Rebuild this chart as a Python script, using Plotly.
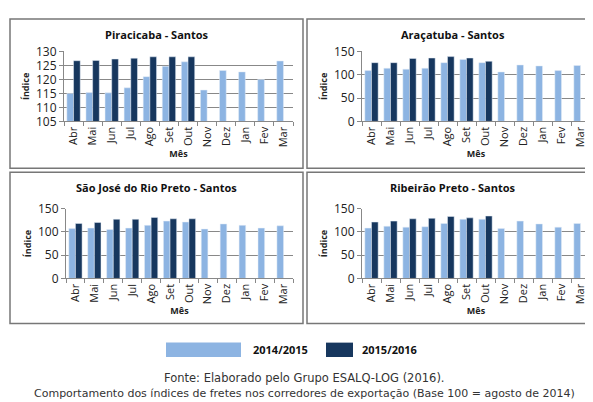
import plotly.graph_objects as go

W, H = 593, 402

meses = ["Abr", "Mai", "Jun", "Jul", "Ago", "Set", "Out", "Nov", "Dez", "Jan", "Fev", "Mar"]

titulos = ["Piracicaba - Santos", "Araçatuba - Santos",
           "São José do Rio Preto - Santos", "Ribeirão Preto - Santos"]

pira_1415 = [115, 115.3, 115.2, 117, 121, 124.7, 126.3, 116.2, 123.2, 122.7, 120, 126.6]
pira_1516 = [126.7, 126.8, 127.3, 127.6, 128.1, 128.1, 128.1]
arac_1415 = [109, 114, 112, 114, 126, 133, 126, 106, 121, 119, 109, 120]
arac_1516 = [126, 126, 135, 136, 139, 136, 129]
sjrp_1415 = [107, 108, 105, 108, 114, 123, 121, 106, 117, 114, 108, 113]
sjrp_1516 = [118, 120, 127, 127, 131, 128, 128]
ribp_1415 = [108, 112, 110, 111, 118, 127, 127, 107, 123, 117, 110, 118]
ribp_1516 = [121, 123, 128, 129, 133, 130, 134]

serie_1415 = [pira_1415, arac_1415, sjrp_1415, ribp_1415]
serie_1516 = [pira_1516, arac_1516, sjrp_1516, ribp_1516]

LIGHT = "#8db4e2"
DARK = "#17375e"
FONT = "Open Sans"

# plot areas in pixels: (x0, x1, ytop, ybottom); panel boxes
areas = [(56, 285, 36, 109), (354, 582, 36, 109),
         (58, 285, 200, 273), (354, 582, 200, 273)]
boxes = [(2, 295, 2, 158), (299, 591, 2, 158), (2, 295, 162, 320), (299, 591, 162, 320)]
ranges = [[105, 130], [0, 150], [0, 150], [0, 150]]
dticks = [5, 50, 50, 50]

fig = go.Figure()
shapes = []
annotations = []

for i in range(4):
    xa = "x" if i == 0 else f"x{i+1}"
    ya = "y" if i == 0 else f"y{i+1}"
    fig.add_trace(go.Bar(x=meses, y=serie_1415[i], marker_color=LIGHT, xaxis=xa, yaxis=ya,
                         showlegend=False))
    fig.add_trace(go.Bar(x=meses[:len(serie_1516[i])], y=serie_1516[i], marker_color=DARK,
                         xaxis=xa, yaxis=ya, showlegend=False))
    x0, x1, yt, yb = areas[i]
    suf = "" if i == 0 else str(i + 1)
    fig.layout["xaxis" + suf] = dict(
        domain=[x0 / W, x1 / W], anchor=ya, categoryorder="array", categoryarray=meses,
        tickangle=-90, tickfont=dict(size=11, color="#222", family=FONT),
        showline=True, linecolor="#888", ticks="outside", tickson="boundaries",
        ticklen=4, tickcolor="#888", showgrid=False,
        title=dict(text="<b>Mês</b>", font=dict(size=9, color="#222", family=FONT), standoff=4))
    fig.layout["yaxis" + suf] = dict(
        domain=[1 - yb / H, 1 - yt / H], anchor=xa, range=ranges[i], dtick=dticks[i],
        tickfont=dict(size=12, color="#222", family=FONT), showgrid=True, gridcolor="#888",
        gridwidth=1, showline=True, linecolor="#888", ticks="outside", ticklen=4,
        tickcolor="#888", zeroline=False,
        title=dict(text="<b>Índice</b>", font=dict(size=9, color="#222", family=FONT), standoff=4))
    bx0, bx1, by0, by1 = boxes[i]
    shapes.append(dict(type="rect", xref="paper", yref="paper", x0=bx0 / W, x1=bx1 / W,
                       y0=1 - by1 / H, y1=1 - by0 / H, line=dict(color="#777", width=1.5)))
    annotations.append(dict(text=f"<b>{titulos[i]}</b>", xref="paper", yref="paper",
                            x=((bx0 + bx1) / 2) / W, y=1 - (by0 + 16) / H, showarrow=False,
                            xanchor="center", yanchor="middle",
                            font=dict(size=11, color="#111", family=FONT)))

# legend
shapes.append(dict(type="rect", xref="paper", yref="paper", x0=158 / W, x1=233 / W,
                   y0=1 - 355 / H, y1=1 - 340 / H, fillcolor=LIGHT, line=dict(width=0)))
shapes.append(dict(type="rect", xref="paper", yref="paper", x0=318 / W, x1=345 / W,
                   y0=1 - 355 / H, y1=1 - 340 / H, fillcolor=DARK, line=dict(width=0)))
annotations.append(dict(text="<b>2014/2015</b>", xref="paper", yref="paper", x=243 / W,
                        y=1 - 347 / H, xanchor="left", yanchor="middle", showarrow=False,
                        font=dict(size=11, color="#111", family=FONT)))
annotations.append(dict(text="<b>2015/2016</b>", xref="paper", yref="paper", x=352 / W,
                        y=1 - 347 / H, xanchor="left", yanchor="middle", showarrow=False,
                        font=dict(size=11, color="#111", family=FONT)))

annotations.append(dict(text="Fonte: Elaborado pelo Grupo ESALQ-LOG (2016).", xref="paper",
                        yref="paper", x=0.5, y=1 - 377 / H, xanchor="center", yanchor="middle",
                        showarrow=False, font=dict(size=11.5, color="#333", family="DejaVu Sans")))
annotations.append(dict(text="Comportamento dos índices de fretes nos corredores de exportação (Base 100 = agosto de 2014)",
                        xref="paper", yref="paper", x=0.5, y=1 - 393 / H, xanchor="center",
                        yanchor="middle", showarrow=False,
                        font=dict(size=11, color="#333", family="DejaVu Sans")))

fig.update_layout(width=W, height=H, margin=dict(l=0, r=0, t=0, b=0),
                  paper_bgcolor="white", plot_bgcolor="white", barmode="group",
                  bargap=0.3, bargroupgap=0.0, shapes=shapes, annotations=annotations)

fig.write_html("out.html")
